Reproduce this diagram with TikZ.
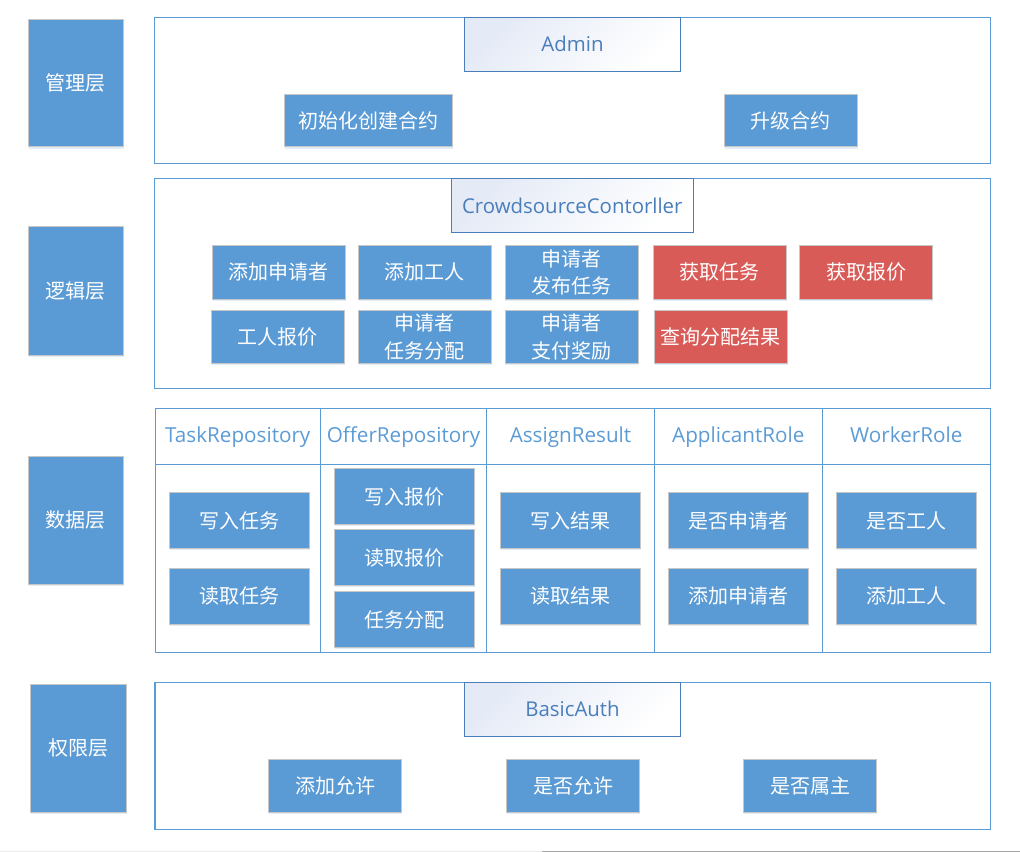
\documentclass[tikz,border=0pt]{standalone}
\usepackage{fontspec}
\setmainfont{Open Sans}
\newfontfamily\cjk{Noto Sans CJK SC}
\usepackage{tikz}
\usetikzlibrary{shadows}
\definecolor{BoxBlue}{HTML}{5B9BD5}
\definecolor{BoxRed}{HTML}{D95B57}
\definecolor{FrameBlue}{HTML}{5B9BD5}
\definecolor{HeadBlue}{HTML}{4A7EBB}
\definecolor{HeadFill}{HTML}{E4EAF6}
\def\px{0.75pt}
\newcommand\boxnode[8][]{% style, name, x1, y1, x2, y2, text
  \node[#2,#1,minimum width={(#6-#4)*\px},minimum height={(#7-#5)*\px}] (#3) at ({(#4+#6)/2},{(#5+#7)/2}) {#8};
}

\begin{document}
\begin{tikzpicture}[x=\px,y=-\px]
		\tikzstyle{every node}=[inner sep=0pt,outer sep=0pt]
		\tikzstyle{frame}=[draw=FrameBlue,line width=0.9pt]
		\tikzstyle{headbox}=[draw=HeadBlue,line width=0.9pt,top color=HeadFill,bottom color=white,shading angle=45,
		                     text=HeadBlue,font=\fontsize{15.3}{18}\selectfont]
		\tikzstyle{funcbox}=[fill=BoxBlue,draw=black!22,line width=0.75pt,text=white,align=center,
		                     font=\cjk\fontsize{15}{20.5}\selectfont,
		                     drop shadow={shadow xshift=0.3pt,shadow yshift=-1.3pt,opacity=0.3,fill=BoxBlue!60}]
		\tikzstyle{redbox}=[funcbox,fill=BoxRed]
		\tikzstyle{layerbox}=[funcbox]
		\tikzstyle{colhead}=[anchor=base,text=BoxBlue,font=\fontsize{15.5}{18}\selectfont]

\useasboundingbox (0,0) rectangle (1020,852);

% layers on the left
\boxnode{layerbox}{layer_admin}{28.3}{19.3}{123.3}{147}{管理层}
\boxnode{layerbox}{layer_logic}{28.3}{226.3}{123.3}{355.3}{逻辑层}
\boxnode{layerbox}{layer_data}{28.3}{456.3}{123.3}{584.3}{数据层}
\boxnode{layerbox}{layer_auth}{30.7}{684.3}{126.2}{812.3}{权限层}

% frames
\boxnode{frame}{admin_frame}{154.3}{17.3}{990.3}{163.3}{}
\boxnode{frame}{logic_frame}{154.3}{178.5}{990.3}{388.2}{}
\boxnode{frame}{data_frame}{155.3}{408.3}{990.3}{652.7}{}
\boxnode{frame}{auth_frame}{155}{682.3}{990.3}{829.3}{}

% contract headers
\boxnode{headbox}{admin}{464.3}{17.3}{680.7}{71.3}{Admin}
\boxnode{headbox}{controller}{451.3}{178.5}{693.3}{232.3}{CrowdsourceContorller}
\boxnode{headbox}{basic_auth}{464.3}{682.3}{680.7}{736.3}{BasicAuth}

% admin layer
\boxnode{funcbox}{init_contract}{284.3}{94.3}{452.3}{147}{初始化创建合约}
\boxnode{funcbox}{upgrade_contract}{724.3}{94.3}{857.3}{147}{升级合约}

% logic layer
\foreach \name/\xa/\sty/\txt in {add_applicant/212.3/funcbox/添加申请者,add_worker/358.3/funcbox/添加工人,
    publish_task/505/funcbox/{申请者\\发布任务},get_task/653.3/redbox/获取任务,get_offer/799.7/redbox/获取报价}
{
  \boxnode{\sty}{\name}{\xa}{245.3}{\xa+133}{299.3}{\txt}
}
\foreach \name/\xa/\sty/\txt in {worker_offer/211.3/funcbox/工人报价,assign_task/358.3/funcbox/{申请者\\任务分配},
    pay_reward/505/funcbox/{申请者\\支付奖励},query_result/654.3/redbox/查询分配结果}
{
  \boxnode{\sty}{\name}{\xa}{310.3}{\xa+133}{363.3}{\txt}
}

% data layer
\draw[frame] (155.3,464.3) -- (990.3,464.3);
\foreach \xd in {320.3,486.7,654.3,822.3}
  \draw[frame] (\xd,408.3) -- (\xd,652.7);
\foreach \i/\xc/\txt in {1/237.8/TaskRepository,2/403.5/OfferRepository,3/570.5/AssignResult,
    4/738.3/ApplicantRole,5/906.3/WorkerRole}
  \node[colhead] (col_head\i) at (\xc,442.5) {\txt};

\foreach \name/\xa/\txt in {write_task/169.3/写入任务,write_result/500.7/写入结果,
    is_applicant/668.7/是否申请者,is_worker/836.7/是否工人}
  \boxnode{funcbox}{\name}{\xa}{492.7}{\xa+140}{548.3}{\txt};
\foreach \name/\xa/\txt in {read_task/169.3/读取任务,read_result/500.7/读取结果,
    put_applicant/668.7/添加申请者,put_worker/836.7/添加工人}
  \boxnode{funcbox}{\name}{\xa}{568.7}{\xa+140}{624}{\txt};
\foreach \name/\ya/\txt in {write_offer/468.7/写入报价,read_offer/529.7/读取报价,assign_offer/591.7/任务分配}
  \boxnode{funcbox}{\name}{334.3}{\ya}{474.3}{\ya+55.6}{\txt};

% auth layer
\foreach \name/\xa/\txt in {add_allow/268.3/添加允许,is_allowed/506.3/是否允许,is_owner/743.3/是否属主}
  \boxnode{funcbox}{\name}{\xa}{759.3}{\xa+133.4}{812.3}{\txt};

% bottom rule
\fill[black!7] (0,850.6) rectangle (542.3,852);
\fill[black!35] (542.3,850.6) rectangle (1020,852);

\end{tikzpicture}
\end{document}
